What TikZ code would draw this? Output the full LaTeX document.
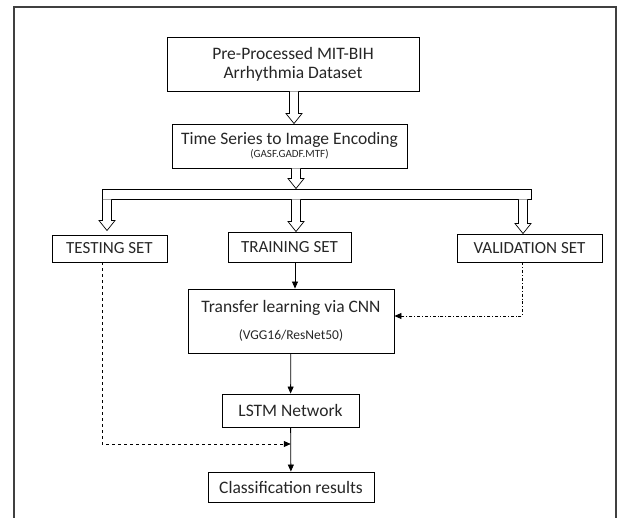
\documentclass[tikz,border=0pt]{standalone}
\usepackage{fontspec}
\setmainfont{Carlito}
\usetikzlibrary{arrows.meta,calc}

\tikzset{
  box/.style={draw, line width=0.9pt, inner sep=0pt, align=center, text=black!85},
  arr/.style={line width=0.8pt, -{Triangle[length=7pt,width=6pt]}},
}

% hollow (outlined) arrow between two points on one vertical line
\newcommand{\hollowarrow}[2]{%
  \path #1 coordinate (ha1) #2 coordinate (ha2);
  \draw[line width=0.7pt, fill=white] let \p1=(ha1), \p2=(ha2) in
    (\x1-4.5pt,\y1) -- (\x1-4.5pt,\y2+10pt) -- (\x1-8pt,\y2+10pt) -- (\x1,\y2)
    -- (\x1+8pt,\y2+10pt) -- (\x1+4.5pt,\y2+10pt) -- (\x1+4.5pt,\y1);
}

\begin{document}
\begin{tikzpicture}[x=1pt, y=-1pt]
\useasboundingbox (0,0) rectangle (621,517);

% frame
\draw[line width=1.3pt, black!75] (14,520) -- (14,7) -- (616,7) -- (616,520);

% boxes
\node[box, minimum width=252pt, minimum height=54pt, font=\fontsize{17.5}{19}\selectfont] (data) at (293,64)
  {Pre-Processed MIT-BIH\\Arrhythmia Dataset};
\node[box, minimum width=235pt, minimum height=44pt] (enc) at (289.5,146)
  {{\fontsize{17.5}{18}\selectfont Time Series to Image Encoding}\\[1pt]{\fontsize{11}{12}\selectfont (GASF.GADF.MTF)}};
\node[box, minimum width=429pt, minimum height=10pt] (split) at (316.5,194) {};

\node[box, minimum width=115pt, minimum height=27pt, font=\fontsize{17}{18}\selectfont] (test) at (109.5,248.5) {TESTING SET};
\node[box, minimum width=123pt, minimum height=30pt, font=\fontsize{17}{18}\selectfont] (train) at (289.5,247) {TRAINING SET};
\node[box, minimum width=145pt, minimum height=28pt, font=\fontsize{17}{18}\selectfont] (valid) at (529.5,248) {VALIDATION SET};

\node[box, minimum width=206pt, minimum height=64pt] (cnn) at (291,321)
  {{\fontsize{17.5}{18}\selectfont Transfer learning via CNN}\\[13pt]{\fontsize{13.5}{15}\selectfont (VGG16/ResNet50)}};
\node[box, minimum width=137pt, minimum height=33pt, font=\fontsize{17.5}{18}\selectfont] (lstm) at (290.5,410.5) {LSTM Network};
\node[box, minimum width=166pt, minimum height=30pt, font=\fontsize{17.5}{18}\selectfont] (result) at (291,487) {Classification results};

% column positions of the hollow arrows
\coordinate (cTest) at (107,0);
\coordinate (cMid) at (296,0);
\coordinate (cValid) at (523,0);

% hollow arrows
\hollowarrow{(data.south -| 294,0)}{(enc.north -| 294,0)}
\hollowarrow{(enc.south -| cMid)}{(split.north -| cMid)}
\hollowarrow{(split.south -| cTest)}{([yshift=4pt]test.north -| cTest)}
\hollowarrow{(split.south -| cMid)}{(train.north -| cMid)}
\hollowarrow{(split.south -| cValid)}{(valid.north -| cValid)}

% connectors
\draw[arr] ([xshift=5.5pt]train.south) -- ([xshift=5.5pt]train.south |- cnn.north);
\draw[arr] (cnn) -- (lstm);
\draw[arr] (lstm) -- (result);
\draw[arr, dash dot] ([xshift=-7pt]valid.south) |- ([yshift=5pt]cnn.east);
\coordinate (merge) at ([yshift=5.5pt]$(lstm.south)!0.5!(result.north)$);
\draw[arr, dashed] ([xshift=-7.5pt]test.south) |- (merge);

\end{tikzpicture}
\end{document}
